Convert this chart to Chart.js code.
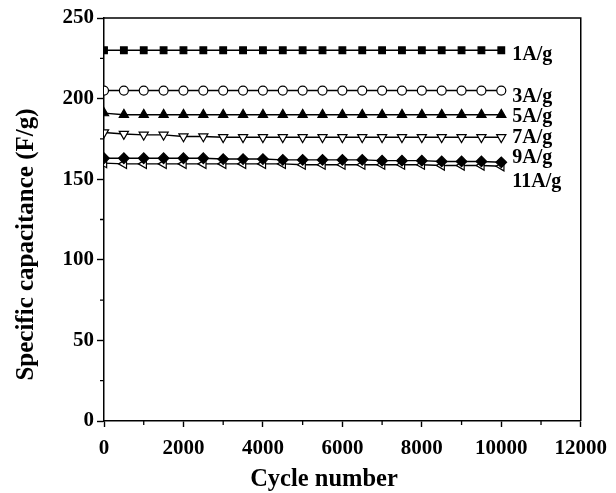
<!DOCTYPE html>
<html>
<head>
<meta charset="utf-8">
<script src="https://cdn.jsdelivr.net/npm/chart.js@4"></script>
<style>
  html, body { margin: 0; padding: 0; background: #fff; }
  canvas { display: block; }
</style>
</head>
<body>
<canvas id="cap-chart" width="616" height="493"></canvas>
<script>
// cycle numbers where points were recorded
const cycles = [0, 500, 1000, 1500, 2000, 2500, 3000, 3500, 4000, 4500, 5000,
  5500, 6000, 6500, 7000, 7500, 8000, 8500, 9000, 9500, 10000];

// specific capacitance (F/g) per current density
const cap1 = [230, 230, 230, 230, 230, 230, 230, 230, 230, 230, 230,
  230, 230, 230, 230, 230, 230, 230, 230, 230, 230];
const cap3 = [205, 205, 205, 205, 205, 205, 205, 205, 205, 205, 205,
  205, 205, 205, 205, 205, 205, 205, 205, 205, 205];
const cap5 = [191, 190, 190, 190, 190, 190, 190, 190, 190, 190, 190,
  190, 190, 190, 190, 190, 190, 190, 190, 190, 190];
const cap7 = [179, 178, 177.5, 177.5, 176.5, 176.5, 176, 176, 176, 176, 176,
  176, 176, 176, 176, 176, 176, 176, 176, 176, 176];
const cap9 = [163, 163, 163, 163, 163, 163, 162.5, 162.5, 162.5, 162, 162,
  162, 162, 162, 161.5, 161.5, 161.5, 161, 161, 161, 160.5];
const cap11 = [160, 159.5, 159.5, 159.5, 159.5, 159.5, 159.5, 159.5, 159.5, 159.5, 159,
  159, 159, 159, 159, 159, 159, 158.5, 158.5, 158.5, 158];

const seriesNames = ['1A/g', '3A/g', '5A/g', '7A/g', '9A/g', '11A/g'];
// height (F/g) at which each series label sits, right of the last point
const labelAt = [227, 201, 188.5, 175.5, 163, 148.5];

const xTicks = [0, 2000, 4000, 6000, 8000, 10000, 12000];
const xMinor = [1000, 3000, 5000, 7000, 9000, 11000];
const yTicks = [0, 50, 100, 150, 200, 250];
const yMinor = [25, 75, 125, 175, 225];

const serif = '"Liberation Serif", "Times New Roman", serif';

function series(vals) {
  return vals.map((v, i) => ({ x: cycles[i], y: v }));
}

function makeDataset(label, vals, style, filled, rotation) {
  return {
    label: label,
    data: series(vals),
    borderColor: '#000',
    borderWidth: 1.4,
    backgroundColor: filled ? '#000' : '#fff',
    pointBackgroundColor: filled ? '#000' : '#fff',
    pointBorderColor: '#000',
    pointBorderWidth: 1.2,
    pointStyle: style,
    pointRotation: rotation || 0,
    pointRadius: style === 'circle' ? 4.5 : (style === 'rect' ? 4.7 : 5.3),
    tension: 0,
    fill: false
  };
}

// minor ticks, series labels and the top/right frame
const extras = {
  id: 'extras',
  afterDraw(chart) {
    const ctx = chart.ctx;
    const xs = chart.scales.x;
    const ys = chart.scales.y;
    const area = chart.chartArea;
    ctx.save();
    ctx.strokeStyle = '#000';
    ctx.lineWidth = 1.5;
    ctx.beginPath();
    ctx.moveTo(area.left, area.top);
    ctx.lineTo(area.right, area.top);
    ctx.lineTo(area.right, area.bottom);
    ctx.stroke();

    ctx.lineWidth = 1.3;
    ctx.beginPath();
    xMinor.forEach(v => {
      const px = xs.getPixelForValue(v);
      ctx.moveTo(px, area.bottom);
      ctx.lineTo(px, area.bottom + 4);
    });
    yMinor.forEach(v => {
      const py = ys.getPixelForValue(v);
      ctx.moveTo(area.left, py);
      ctx.lineTo(area.left - 4, py);
    });
    ctx.stroke();

    ctx.fillStyle = '#000';
    ctx.font = 'bold 20px ' + serif;
    ctx.textAlign = 'left';
    ctx.textBaseline = 'middle';
    seriesNames.forEach((name, i) => {
      const px = xs.getPixelForValue(cycles[cycles.length - 1]) + 11;
      const py = ys.getPixelForValue(labelAt[i]);
      ctx.fillText(name, px, py);
    });
    ctx.restore();
  }
};

const ctx = document.getElementById('cap-chart').getContext('2d');
new Chart(ctx, {
  type: 'line',
  data: {
    datasets: [
      makeDataset('1A/g', cap1, 'rect', true),
      makeDataset('3A/g', cap3, 'circle', false),
      makeDataset('5A/g', cap5, 'triangle', true),
      makeDataset('7A/g', cap7, 'triangle', false, 180),
      makeDataset('9A/g', cap9, 'rectRot', true),
      makeDataset('11A/g', cap11, 'triangle', false, 270)
    ]
  },
  options: {
    responsive: false,
    animation: false,
    layout: { padding: { top: 18, right: 35, left: 0, bottom: 0 } },
    plugins: {
      legend: { display: false },
      tooltip: { enabled: false }
    },
    scales: {
      x: {
        type: 'linear',
        min: 0,
        max: 12000,
        afterFit: scale => { scale.height = 72; },
        afterBuildTicks: scale => { scale.ticks = xTicks.map(v => ({ value: v })); },
        grid: { drawOnChartArea: false, drawTicks: true, tickLength: 6, tickColor: '#000', tickWidth: 1.4 },
        border: { display: true, color: '#000', width: 1.5 },
        ticks: {
          color: '#000',
          padding: 9,
          maxRotation: 0,
          callback: v => String(v),
          font: { family: serif, size: 21, weight: 'bold' }
        },
        title: {
          display: true,
          text: 'Cycle number\u00a0\u00a0\u00a0\u00a0\u00a0\u00a0',
          color: '#000',
          padding: { top: 1, bottom: 1 },
          font: { family: serif, size: 24.5, weight: 'bold', lineHeight: 1 }
        }
      },
      y: {
        min: 0,
        max: 250,
        afterFit: scale => { scale.width = 104; },
        afterBuildTicks: scale => { scale.ticks = yTicks.map(v => ({ value: v })); },
        grid: { drawOnChartArea: false, drawTicks: true, tickLength: 7, tickColor: '#000', tickWidth: 1.4 },
        border: { display: true, color: '#000', width: 1.5 },
        ticks: {
          color: '#000',
          padding: 3,
          callback: v => String(v),
          font: { family: serif, size: 21, weight: 'bold' }
        },
        title: {
          display: true,
          text: 'Specific capacitance (F/g)\u00a0\u00a0\u00a0\u00a0\u00a0\u00a0\u00a0\u00a0',
          color: '#000',
          padding: { top: 14, bottom: 14 },
          font: { family: serif, size: 25, weight: 'bold', lineHeight: 1 }
        }
      }
    }
  },
  plugins: [extras]
});
</script>
</body>
</html>
